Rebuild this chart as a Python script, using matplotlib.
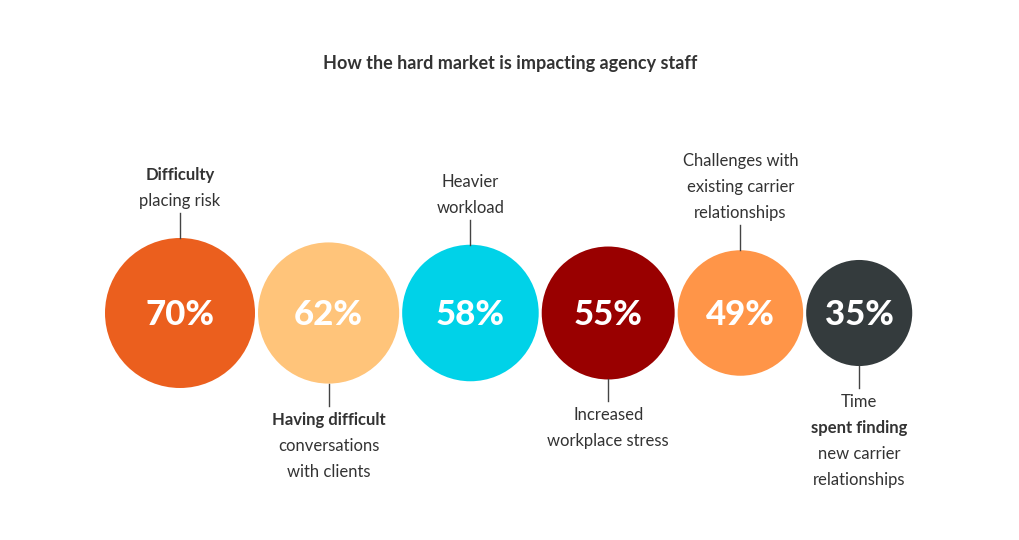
import numpy as np
import matplotlib.pyplot as plt
from matplotlib.patches import Circle

title = "How the hard market is impacting agency staff"
values = [70, 62, 58, 55, 49, 35]
labels = [
    ["Difficulty", "placing risk"],
    ["Having difficult", "conversations", "with clients"],
    ["Heavier", "workload"],
    ["Increased", "workplace stress"],
    ["Challenges with", "existing carrier", "relationships"],
    ["Time", "spent finding", "new carrier", "relationships"],
]
bold_lines = {(0, 0), (1, 0), (5, 1)}
colors = ["#EB5F1E", "#FFC47A", "#00D2E8", "#990000", "#FF9548", "#343B3D"]

fig = plt.figure(figsize=(10.2, 5.4), dpi=100)
ax = fig.add_axes([0, 0, 1, 1])
ax.set_xlim(0, 1020)
ax.set_ylim(540, 0)
ax.axis("off")

fig.text(0.5, 1 - 64 / 540, title, ha="center", va="center",
         fontsize=13, fontweight="bold", color="#333333", family="Lato")

cy = 313
radii = [75 * np.sqrt(v / 70) for v in values]
x = 105
for i, (v, r) in enumerate(zip(values, radii)):
    cx = x + r
    x = cx + r + 3
    ax.add_patch(Circle((cx, cy), r, color=colors[i], lw=0))
    ax.text(cx, cy + 2, f"{v}%", ha="center", va="center", color="white",
            fontsize=25, fontweight="heavy", family="Lato")
    lines = labels[i]
    if i % 2 == 0:
        y0 = cy - r
        ax.plot([cx, cx], [y0, y0 - 25], color="#444444", lw=1)
        for k, t in enumerate(lines):
            y = y0 - 37 - (len(lines) - 1 - k) * 26
            ax.text(cx, y, t, ha="center", va="center", fontsize=12, color="#333333",
                    family="Lato", fontweight="bold" if (i, k) in bold_lines else "normal")
    else:
        y0 = cy + r
        ax.plot([cx, cx], [y0, y0 + 22], color="#444444", lw=1)
        for k, t in enumerate(lines):
            y = y0 + 36 + k * 26
            ax.text(cx, y, t, ha="center", va="center", fontsize=12, color="#333333",
                    family="Lato", fontweight="bold" if (i, k) in bold_lines else "normal")

fig.savefig("out.png", dpi=100, facecolor="white")
